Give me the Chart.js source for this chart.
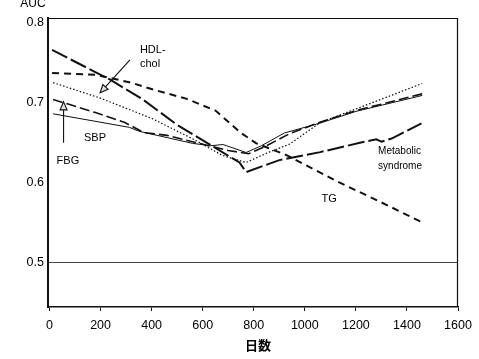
<!DOCTYPE html>
<html><head><meta charset="utf-8">
<script src="https://cdn.jsdelivr.net/npm/chart.js@4/dist/chart.umd.min.js"></script>
<style>html,body{margin:0;padding:0;background:#fff;}#wrap{width:479px;height:359px;}</style>
</head><body><div id="wrap"><canvas id="c" width="479" height="359"></canvas></div>
<script>
// ---- data (days, AUC) ----
const xTickValues = [0,200,400,600,800,1000,1200,1400,1600];
const yTickValues = [0.5,0.6,0.7,0.8];

const metDays = [10,236,365,498,615,744,770,900,1060,1220,1280,1300,1340,1457];
const metAUC  = [.766,.729,.704,.6725,.65,.625,.613,.628,.638,.65,.654,.651,.655,.674];

const tgDays = [10,180,250,320,410,535,650,700,750,810,930,1135,1300,1460];
const tgAUC  = [.737,.735,.73,.725,.716,.705,.69,.676,.662,.649,.634,.6,.575,.55];

const hdlDays = [14,196,402,574,676,770,860,940,1060,1200,1330,1460];
const hdlAUC  = [.725,.706,.68,.6525,.634,.625,.638,.648,.675,.692,.708,.724];

const sbpDays = [14,313,352,560,630,680,770,830,920,1056,1200,1460];
const sbpAUC  = [.686,.669,.664,.649,.646,.6475,.6375,.646,.662,.674,.689,.709];

const fbgDays = [14,180,295,370,460,560,700,780,850,940,1056,1200,1460];
const fbgAUC  = [.704,.6875,.675,.6625,.659,.651,.64,.636,.646,.661,.675,.69,.711];

const seriesNames = ['Metabolic syndrome','TG','HDL-chol','SBP','FBG'];

function pts(d, v){ return d.map((x,i)=>({x:x, y:v[i]})); }

// annotation texts (anchored in data units)
const noteTexts = [
  {t:'HDL-', x:354, y:.766, align:'left', size:11},
  {t:'chol', x:354, y:.7485, align:'left', size:11},
  {t:'SBP', x:178, y:.656, align:'center', size:11},
  {t:'FBG', x:72, y:.6273, align:'center', size:11},
  {t:'TG', x:1095, y:.5798, align:'center', size:11},
  {t:'Metabolic', x:1287, y:.6385, align:'left', size:10},
  {t:'syndrome', x:1287, y:.6198, align:'left', size:10}
];
const arrows = [
  {from:[315,.7535], to:[198,.7123]},
  {from:[55,.6498], to:[55,.701]}
];

const styles = [
  {w:2, dash:[17,4]},
  {w:2, dash:[7,5]},
  {w:1.2, dash:[1.5,2]},
  {w:1, dash:[]},
  {w:1.6, dash:[10,4]}
];
const dataSets = [pts(metDays,metAUC), pts(tgDays,tgAUC), pts(hdlDays,hdlAUC), pts(sbpDays,sbpAUC), pts(fbgDays,fbgAUC)];

const decor = {
  id:'decor',
  afterDatasetsDraw(chart){
    const c = chart.ctx, a = chart.chartArea, xs = chart.scales.x, ys = chart.scales.y;
    c.save();
    // frame top/right
    c.strokeStyle = '#111'; c.lineWidth = 1.2; c.setLineDash([]);
    c.beginPath(); c.moveTo(a.left, a.top+0.5); c.lineTo(a.right-0.5, a.top+0.5); c.lineTo(a.right-0.5, a.bottom); c.stroke();
    // notes
    c.fillStyle = '#000'; c.textBaseline = 'middle';
    noteTexts.forEach(n=>{
      c.font = n.size+'px "Liberation Sans", Arial, sans-serif';
      c.textAlign = n.align;
      c.fillText(n.t, xs.getPixelForValue(n.x), ys.getPixelForValue(n.y));
    });
    // arrows
    c.lineWidth = 1.1; c.strokeStyle = '#111';
    arrows.forEach(ar=>{
      const x1 = xs.getPixelForValue(ar.from[0]), y1 = ys.getPixelForValue(ar.from[1]);
      const x2 = xs.getPixelForValue(ar.to[0]), y2 = ys.getPixelForValue(ar.to[1]);
      const ang = Math.atan2(y2-y1, x2-x1), L = 8, W = 3.5;
      const bx = x2 - L*Math.cos(ang), by = y2 - L*Math.sin(ang);
      c.beginPath(); c.moveTo(x1,y1); c.lineTo(bx,by); c.stroke();
      c.beginPath();
      c.moveTo(x2,y2);
      c.lineTo(bx + W*Math.sin(ang), by - W*Math.cos(ang));
      c.lineTo(bx - W*Math.sin(ang), by + W*Math.cos(ang));
      c.closePath(); c.fillStyle = '#ddd'; c.fill(); c.stroke();
    });
    // axis titles
    c.fillStyle = '#000'; c.textAlign = 'center'; c.textBaseline = 'middle';
    c.font = '12px "Liberation Sans", Arial, sans-serif';
    c.fillText('AUC', 33, 4);
    c.font = 'bold 13px "Noto Sans CJK JP", sans-serif';
    c.fillText('日数', 258, 345);
    c.restore();
  }
};

new Chart(document.getElementById('c'), {
  type:'line',
  data:{ datasets: dataSets.map((d,i)=>({
    label: seriesNames[i], data: d, borderColor:'#111', backgroundColor:'#111',
    borderWidth: styles[i].w, borderDash: styles[i].dash, pointRadius:0, tension:0, fill:false
  }))},
  options:{
    responsive:false, animation:false, devicePixelRatio:1,
    layout:{padding:{top:18,right:21,left:0,bottom:0}},
    plugins:{legend:{display:false}, tooltip:{enabled:false}},
    scales:{
      x:{type:'linear', min:-6, max:1600,
        afterBuildTicks: s=>{ s.ticks = xTickValues.map(v=>({value:v})); },
        afterFit: s=>{ s.height = 52; },
        grid:{drawOnChartArea:false, drawTicks:true, tickLength:4, tickColor:'#111', lineWidth:1},
        border:{display:true, color:'#111', width:1.5},
        ticks:{color:'#000', padding:7, maxRotation:0, font:{family:'"Liberation Sans", Arial, sans-serif', size:12.5}, callback:v=>String(v)}
      },
      y:{type:'linear', min:0.444, max:0.806,
        afterBuildTicks: s=>{ s.ticks = yTickValues.map(v=>({value:v})); },
        afterFit: s=>{ s.width = 48; },
        grid:{drawOnChartArea:true, drawTicks:true, tickLength:3, tickColor:'rgba(0,0,0,0)',
          color: ctx=> (ctx.tick && Math.abs(ctx.tick.value-0.5)<1e-9) ? '#444' : 'rgba(0,0,0,0)', lineWidth:1},
        border:{display:true, color:'#111', width:2},
        ticks:{color:'#000', padding:1, font:{family:'"Liberation Sans", Arial, sans-serif', size:12.5}, callback:v=>v.toFixed(1)}
      }
    }
  },
  plugins:[decor]
});
</script></body></html>
